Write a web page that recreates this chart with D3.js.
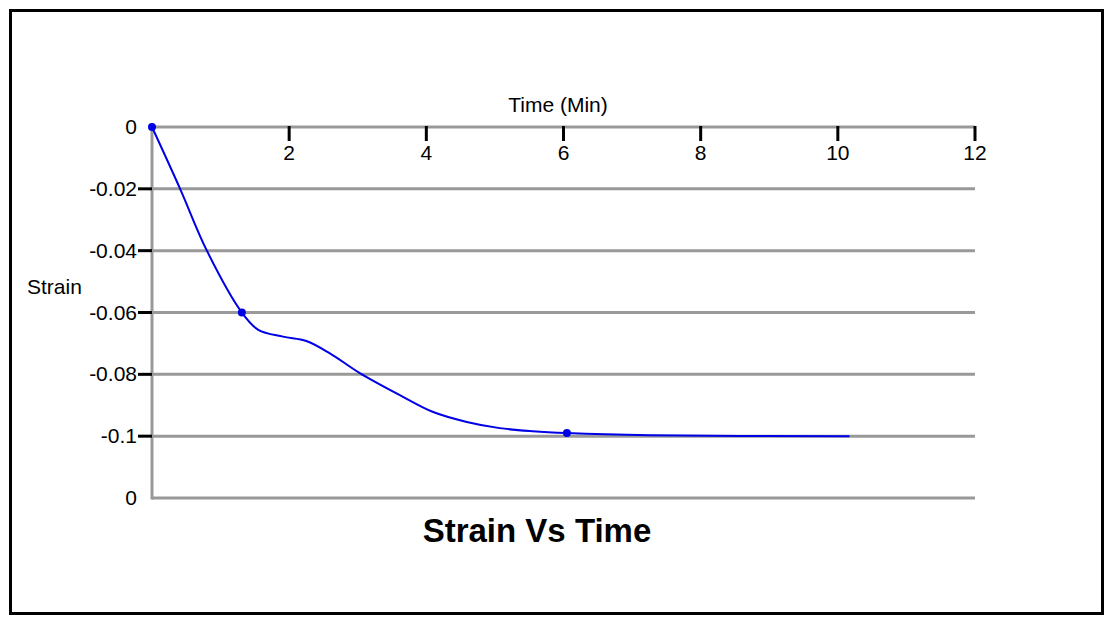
<!DOCTYPE html>
<html>
<head>
<meta charset="utf-8">
<script src="https://cdn.jsdelivr.net/npm/d3@7"></script>
<style>
  body { margin: 0; background: #fff; }
  text { font-family: "Liberation Sans", Arial, sans-serif; }
</style>
</head>
<body>
<div id="chart"></div>
<script>
// strain curve (time in min, strain)
const curveTime   = [0, 0.41, 0.80, 1.31, 1.55, 1.91, 2.25, 2.60, 3.03, 3.62, 4.10, 4.59, 5.07, 5.55, 6.05, 7.26, 10.17];
const curveStrain = [0, -0.02, -0.04, -0.06, -0.0656, -0.0678, -0.0692, -0.0733, -0.0796, -0.0868, -0.0922, -0.0954, -0.0974, -0.0984, -0.099, -0.0997, -0.1];
// points with markers
const markTime   = [0, 1.31, 6.05];
const markStrain = [0, -0.06, -0.099];

const xTicks = [2, 4, 6, 8, 10, 12];
const yTicks = [0, -0.02, -0.04, -0.06, -0.08, -0.1, -0.12];
const yTickLabels = ["0", "-0.02", "-0.04", "-0.06", "-0.08", "-0.1", "0"];

const width = 1115, height = 623;
const margin = {top: 127, right: 140, bottom: 125, left: 152};

const svg = d3.select("#chart").append("svg")
    .attr("width", width)
    .attr("height", height);

// outer frame
svg.append("rect")
    .attr("x", 10.5).attr("y", 10.5)
    .attr("width", 1092).attr("height", 603)
    .attr("fill", "none")
    .attr("stroke", "#000")
    .attr("stroke-width", 3);

const x = d3.scaleLinear()
    .domain([0, 12])
    .range([margin.left, width - margin.right]);

const y = d3.scaleLinear()
    .domain([0, -0.12])
    .range([margin.top, height - margin.bottom]);

// horizontal grid lines
svg.append("g")
  .selectAll("line")
  .data(yTicks)
  .enter().append("line")
    .attr("x1", x(0))
    .attr("x2", x(12))
    .attr("y1", d => y(d))
    .attr("y2", d => y(d))
    .attr("stroke", "#999")
    .attr("stroke-width", 3);

// vertical axis line
svg.append("line")
    .attr("x1", x(0)).attr("x2", x(0))
    .attr("y1", y(0)).attr("y2", y(-0.12) + 1.5)
    .attr("stroke", "#999")
    .attr("stroke-width", 3);

// x ticks (hang under the top axis)
svg.append("g")
  .selectAll("line")
  .data(xTicks)
  .enter().append("line")
    .attr("x1", d => x(d)).attr("x2", d => x(d))
    .attr("y1", y(0) - 1).attr("y2", y(0) + 14)
    .attr("stroke", "#000")
    .attr("stroke-width", 3);

svg.append("g")
  .selectAll("text")
  .data(xTicks)
  .enter().append("text")
    .attr("x", d => x(d))
    .attr("y", y(0) + 33)
    .attr("text-anchor", "middle")
    .attr("font-size", "21px")
    .text(d => d);

// y ticks, only the inner ones
svg.append("g")
  .selectAll("line")
  .data(yTicks.slice(1, 6))
  .enter().append("line")
    .attr("x1", x(0) - 14).attr("x2", x(0))
    .attr("y1", d => y(d)).attr("y2", d => y(d))
    .attr("stroke", "#000")
    .attr("stroke-width", 3);

svg.append("g")
  .selectAll("text")
  .data(yTicks)
  .enter().append("text")
    .attr("x", x(0) - 15)
    .attr("y", d => y(d) + 7)
    .attr("text-anchor", "end")
    .attr("font-size", "21px")
    .text((d, i) => yTickLabels[i]);

// axis labels
svg.append("text")
    .attr("x", 558).attr("y", 112)
    .attr("text-anchor", "middle")
    .attr("font-size", "21px")
    .text("Time (Min)");

svg.append("text")
    .attr("x", 27).attr("y", 294)
    .attr("font-size", "21px")
    .text("Strain");

// title
svg.append("text")
    .attr("x", 537).attr("y", 542)
    .attr("text-anchor", "middle")
    .attr("font-size", "33px")
    .attr("font-weight", "bold")
    .text("Strain Vs Time");

// curve
const curveData = curveTime.map((t, i) => [t, curveStrain[i]]);
const line = d3.line()
    .x(d => x(d[0]))
    .y(d => y(d[1]))
    .curve(d3.curveCatmullRom.alpha(0.5));

svg.append("path")
    .datum(curveData)
    .attr("d", line)
    .attr("fill", "none")
    .attr("stroke", "#0000e6")
    .attr("stroke-width", 2);

svg.append("g")
  .selectAll("circle")
  .data(markTime.map((t, i) => [t, markStrain[i]]))
  .enter().append("circle")
    .attr("cx", d => x(d[0]))
    .attr("cy", d => y(d[1]))
    .attr("r", 4)
    .attr("fill", "#0000e6");
</script>
</body>
</html>
